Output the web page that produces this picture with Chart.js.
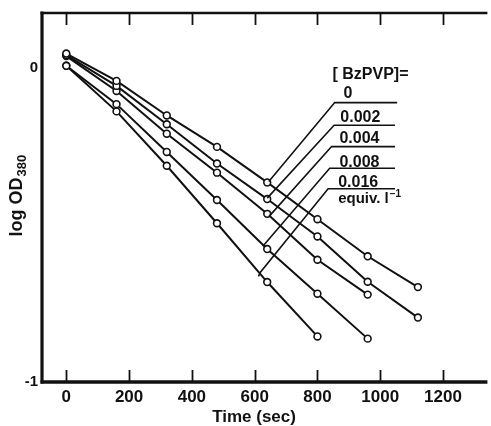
<!DOCTYPE html>
<html>
<head>
<meta charset="utf-8">
<script src="https://cdn.jsdelivr.net/npm/chart.js@4/dist/chart.umd.min.js"></script>
<style>
  html, body { margin: 0; padding: 0; background: #fff; }
  #c { display: block; }
</style>
</head>
<body>
<canvas id="c" width="491" height="426"></canvas>
<script>
// Decay of optical density at 380 nm for several BzPVP concentrations
const times = [0, 160, 320, 480, 640, 800, 960, 1120];           // sec
const concentrations = ['0', '0.002', '0.004', '0.008', '0.016']; // equiv. l^-1
const logOD_0     = [0.045, -0.042, -0.152, -0.252, -0.365, -0.482, -0.600, -0.698];
const logOD_0002  = [0.040, -0.058, -0.180, -0.305, -0.418, -0.537, -0.681, -0.795];
const logOD_0004  = [0.037, -0.074, -0.210, -0.334, -0.465, -0.611, -0.722, null];
const logOD_0008  = [0.006, -0.116, -0.268, -0.421, -0.577, -0.719, -0.862, null];
const logOD_0016  = [0.006, -0.139, -0.312, -0.495, -0.682, -0.855, null, null];
const xTickValues = [0, 200, 400, 600, 800, 1000, 1200];
const yTickValues = [-1, 0];

const seriesValues = [logOD_0, logOD_0002, logOD_0004, logOD_0008, logOD_0016];

// Annotation layout in data units (sec, log OD)
const legendHeader = { text: '[ BzPVP]=', x: 848, y: -0.021 };
const labelSpots = [
  { x: 883, y: -0.081 },
  { x: 873, y: -0.158 },
  { x: 870, y: -0.227 },
  { x: 870, y: -0.301 },
  { x: 866, y: -0.364 }
];
const unitSpot = { x: 866, y: -0.417 };
const underlines = [
  { x1: 855, x2: 1054, y: -0.111 },
  { x1: 853, x2: 1047, y: -0.183 },
  { x1: 845, x2: 1047, y: -0.251 },
  { x1: 839, x2: 1047, y: -0.320 },
  { x1: 834, x2: 1047, y: -0.385 }
];
const leaderEnds = [
  [{ x: 645, y: -0.362 }],
  [{ x: 640, y: -0.415 }],
  [{ x: 646, y: -0.473 }],
  [{ x: 626, y: -0.568 }],
  [{ x: 619, y: -0.650 }, { x: 612, y: -0.664 }]
];

const FONT = "'Liberation Sans', Arial, sans-serif";
const INK = '#111';

const datasets = seriesValues.map((vals, i) => ({
  label: concentrations[i],
  data: times.map((t, k) => (vals[k] === null ? null : { x: t, y: vals[k] })).filter(p => p),
  borderColor: INK,
  borderWidth: 2,
  pointRadius: 3.4,
  pointBorderWidth: 1.6,
  pointBackgroundColor: '#fff',
  pointBorderColor: INK,
  tension: 0,
  fill: false
}));

const framePlugin = {
  id: 'frame',
  afterDatasetsDraw(chart) {
    const { ctx, chartArea: a, scales: { x, y } } = chart;
    ctx.save();
    ctx.strokeStyle = INK;
    ctx.fillStyle = INK;
    ctx.lineCap = 'butt';

    // box: left, bottom, top
    ctx.lineWidth = 3.2;
    ctx.beginPath(); ctx.moveTo(a.left, a.top - 1.5); ctx.lineTo(a.left, a.bottom + 1.5); ctx.stroke();
    ctx.lineWidth = 3.6;
    ctx.beginPath(); ctx.moveTo(a.left - 1.5, a.bottom); ctx.lineTo(a.right + 2, a.bottom); ctx.stroke();
    ctx.lineWidth = 2.6;
    ctx.beginPath(); ctx.moveTo(a.left - 1.5, a.top); ctx.lineTo(a.right + 2, a.top); ctx.stroke();

    // inward tick marks on top and bottom
    ctx.lineWidth = 1.8;
    xTickValues.forEach(v => {
      const px = Math.round(x.getPixelForValue(v)) + 0.5;
      ctx.beginPath(); ctx.moveTo(px, a.top); ctx.lineTo(px, a.top + 12); ctx.stroke();
      ctx.beginPath(); ctx.moveTo(px, a.bottom); ctx.lineTo(px, a.bottom - 12); ctx.stroke();
    });

    // legend annotation: labels, underlines and leader lines
    ctx.textBaseline = 'middle';
    ctx.textAlign = 'left';
    ctx.font = `bold 16px ${FONT}`;
    ctx.fillText(legendHeader.text, x.getPixelForValue(legendHeader.x), y.getPixelForValue(legendHeader.y));
    concentrations.forEach((c, i) => {
      ctx.font = `bold 16px ${FONT}`;
      ctx.fillText(c, x.getPixelForValue(labelSpots[i].x), y.getPixelForValue(labelSpots[i].y));
      const u = underlines[i];
      const uy = y.getPixelForValue(u.y);
      ctx.lineWidth = 1.6;
      ctx.beginPath();
      ctx.moveTo(x.getPixelForValue(u.x2), uy);
      ctx.lineTo(x.getPixelForValue(u.x1), uy);
      leaderEnds[i].forEach(p => ctx.lineTo(x.getPixelForValue(p.x), y.getPixelForValue(p.y)));
      ctx.stroke();
    });
    const ux = x.getPixelForValue(unitSpot.x), uyy = y.getPixelForValue(unitSpot.y);
    ctx.font = `bold 15px ${FONT}`;
    const base = 'equiv. l';
    ctx.fillText(base, ux, uyy);
    const bw = ctx.measureText(base).width;
    ctx.font = `bold 10px ${FONT}`;
    ctx.fillText('\u22121', ux + bw + 1, uyy - 5);

    // axis titles
    ctx.font = `bold 17px ${FONT}`;
    ctx.textAlign = 'center';
    ctx.fillText('Time (sec)', x.getPixelForValue(598), x.bottom - 9);

    ctx.save();
    ctx.translate(y.left + 17, y.getPixelForValue(-0.407));
    ctx.rotate(-Math.PI / 2);
    ctx.font = `bold 18px ${FONT}`;
    const main = 'log OD';
    const mw = ctx.measureText(main).width;
    ctx.font = `bold 13px ${FONT}`;
    const sub = '380';
    const sw = ctx.measureText(sub).width;
    const start = -(mw + sw + 1) / 2;
    ctx.textAlign = 'left';
    ctx.font = `bold 18px ${FONT}`;
    ctx.fillText(main, start, 0);
    ctx.font = `bold 13px ${FONT}`;
    ctx.fillText(sub, start + mw + 1, 5);
    ctx.restore();

    ctx.restore();
  }
};

new Chart(document.getElementById('c'), {
  type: 'line',
  data: { datasets },
  plugins: [framePlugin],
  options: {
    responsive: false,
    animation: false,
    devicePixelRatio: 1,
    layout: { padding: { top: 12, right: 0, left: 0, bottom: 0 } },
    plugins: { legend: { display: false }, tooltip: { enabled: false } },
    scales: {
      x: {
        type: 'linear',
        min: -77.4,
        max: 1335,
        afterBuildTicks: s => { s.ticks = xTickValues.map(v => ({ value: v })); },
        afterFit: s => { s.height = 44; },
        grid: { display: false, drawTicks: false },
        border: { display: false },
        ticks: {
          color: INK,
          font: { family: FONT, size: 17, weight: 'bold' },
          padding: 5,
          maxRotation: 0,
          autoSkip: false,
          callback: v => String(v)
        }
      },
      y: {
        type: 'linear',
        min: -1,
        max: 0.174,
        afterBuildTicks: s => { s.ticks = yTickValues.map(v => ({ value: v })); },
        afterFit: s => { s.width = 42; },
        grid: { display: false, drawTicks: false },
        border: { display: false },
        ticks: {
          color: INK,
          font: { family: FONT, size: 15, weight: 'bold' },
          padding: 4,
          callback: v => (v === -1 ? '-1' : String(v))
        }
      }
    }
  }
});
</script>
</body>
</html>
